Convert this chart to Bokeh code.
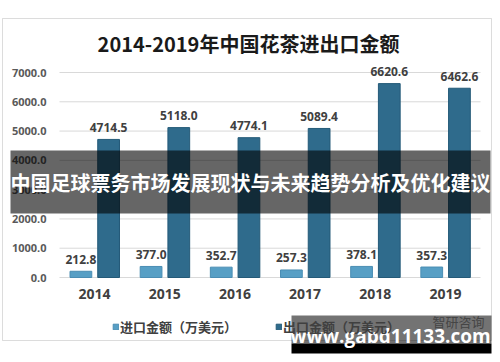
from bokeh.plotting import figure
from bokeh.models import (ColumnDataSource, Range1d, FixedTicker, Label, LinearAxis,
                          BoxAnnotation, Legend, LegendItem, NumeralTickFormatter)
from bokeh.core.properties import value
from bokeh.embed import file_html
from bokeh.resources import INLINE

# ---- data ----
years = ["2014", "2015", "2016", "2017", "2018", "2019"]
imports = [212.8, 377.0, 352.7, 257.3, 378.1, 357.3]
exports = [4714.5, 5118.0, 4774.1, 5089.4, 6620.6, 6462.6]
y_ticks = [0, 1000, 2000, 3000, 4000, 5000, 6000, 7000]
title_text = "2014-2019年中国花茶进出口金额"
series_names = ["进口金额（万美元）", "出口金额（万美元）"]
banner_text = "中国足球票务市场发展现状与未来趋势分析及优化建议"
watermark_text = "www.gabd11133.com"
logo_text = "智研咨询"

CJK = "Noto Sans CJK SC"
IMP_COLOR = "#579fc5"
EXP_COLOR = "#2f6b8c"

W, H = 492, 354
# plot area on the canvas (pixels)
PX0, PX1 = 59, 480          # x extent of the category band
PY0, PY7 = 277, 72          # y pixel of 0 and of 7000
n = len(years)
xpx = (PX1 - PX0) / n       # pixels per category
ypx = (PY0 - PY7) / 7000.0  # pixels per unit

OFF_I, OFF_E, BW = -0.195, 0.2, 0.31
cat_x = [i + 0.5 for i in range(n)]
src = ColumnDataSource(dict(
    x=cat_x,
    xi=[c + OFF_I for c in cat_x],
    xe=[c + OFF_E for c in cat_x],
    imports=imports, exports=exports,
    imp_lbl=[f"{v:.1f}" for v in imports],
    exp_lbl=[f"{v:.1f}" for v in exports],
))

p = figure(width=W, height=H,
           x_range=Range1d(-PX0 / xpx, n + (W - PX1) / xpx),
           y_range=Range1d(-(H - PY0) / ypx, 7000 + PY7 / ypx),
           x_axis_type=None, y_axis_type=None,
           output_backend="svg", toolbar_location=None, min_border=0)
p.title.visible = False
p.outline_line_color = None
p.background_fill_color = "white"
p.border_fill_color = "white"
p.xgrid.visible = False
p.ygrid.visible = False

# gridlines limited to the plot band
p.segment(x0=0, x1=n, y0=y_ticks, y1=y_ticks, line_color="#d9d9d9", line_width=1)

# axes fixed inside the canvas
yax = LinearAxis(fixed_location=0, ticker=FixedTicker(ticks=y_ticks),
                 formatter=NumeralTickFormatter(format="0.0"))
xax = LinearAxis(fixed_location=0, ticker=FixedTicker(ticks=cat_x),
                 major_label_overrides={c: y for c, y in zip(cat_x, years)})
for ax in (xax, yax):
    ax.axis_line_color = None
    ax.major_tick_line_color = None
    ax.minor_tick_line_color = None
    ax.major_tick_out = 0
    ax.major_tick_in = 0
    ax.major_label_text_font_style = "bold"
    ax.major_label_text_font = "Open Sans"
yax.major_label_text_font_size = "11px"
yax.major_label_text_color = "#595959"
yax.major_label_standoff = 13
xax.major_label_text_font_size = "14px"
xax.major_label_text_color = "#404040"
xax.major_label_standoff = 11
p.add_layout(yax, "left")
p.add_layout(xax, "below")

# bars
r_imp = p.vbar(x="xi", top="imports", width=BW, source=src,
               fill_color=IMP_COLOR, line_color="#4a8db3")
r_exp = p.vbar(x="xe", top="exports", width=BW, source=src,
               fill_color=EXP_COLOR, line_color="#245a78")

# value labels
for xcol, col, lbl in (("xi", "imports", "imp_lbl"), ("xe", "exports", "exp_lbl")):
    p.text(x=xcol, y=col, text=lbl, source=src,
           y_offset=-12, text_align="center", text_baseline="middle",
           text_font=value("Open Sans"), text_font_style="bold",
           text_font_size="12px", text_color="#404040")

def sx(X):
    return X

def sy(Y):
    return H - Y

def box(l, r, t, b, **kw):
    return BoxAnnotation(left=sx(l), right=sx(r), top=sy(t), bottom=sy(b),
                         left_units="screen", right_units="screen",
                         top_units="screen", bottom_units="screen", **kw)

# outer frame border
p.add_layout(box(2, 491, 18, 340, fill_alpha=0, line_color="#8c8c8c", line_width=1))

# title
p.add_layout(Label(x=sx(248), y=sy(43), x_units="screen", y_units="screen",
                   text=title_text, text_align="center", text_baseline="middle",
                   text_font=CJK, text_font_style="bold", text_font_size="20px",
                   text_color="#1a1a1a"))

# legend
legend = Legend(items=[LegendItem(label=series_names[0], renderers=[r_imp]),
                       LegendItem(label=series_names[1], renderers=[r_exp])],
                orientation="horizontal", location=(sx(112), sy(336)),
                glyph_width=7, glyph_height=7, label_standoff=1, spacing=38,
                padding=0, margin=0, border_line_alpha=0, background_fill_alpha=0,
                label_text_font=CJK, label_text_font_style="bold",
                label_text_font_size="13px", label_text_color="#404040")
p.add_layout(legend, "center")

# logo text
p.add_layout(Label(x=sx(458), y=sy(321), x_units="screen", y_units="screen",
                   text=logo_text, text_align="center", text_baseline="middle",
                   text_font=CJK, text_font_size="13px", text_color="#9a9a9a"))

# overlay banner
p.add_layout(box(10, 490, 150, 213, fill_color="black", fill_alpha=0.6, line_alpha=0))
p.add_layout(Label(x=sx(250), y=sy(182), x_units="screen", y_units="screen",
                   text=banner_text, text_align="center", text_baseline="middle",
                   text_font=CJK, text_font_style="bold", text_font_size="20px",
                   text_color="white"))

# watermark
p.add_layout(box(291, 491, 315, 343, fill_color="black", fill_alpha=0.55, line_alpha=0))
p.add_layout(box(291, 491, 343, 353, fill_color="black", fill_alpha=1.0, line_alpha=0))
p.add_layout(Label(x=sx(390), y=sy(335), x_units="screen", y_units="screen",
                   text=watermark_text, text_align="center", text_baseline="middle",
                   text_font="Open Sans", text_font_style="bold", text_font_size="19px",
                   text_color="white"))

open("out.html", "w").write(file_html(p, INLINE))
